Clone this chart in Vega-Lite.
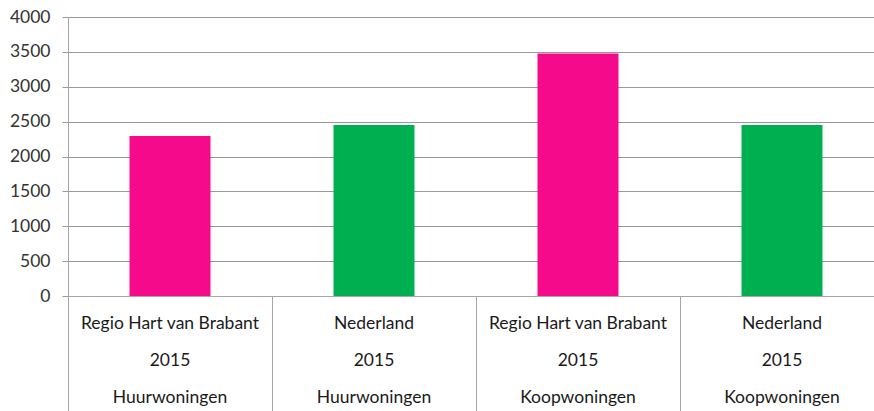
{
  "$schema": "https://vega.github.io/schema/vega-lite/v6.json",
  "autosize": "none",
  "padding": {"left": 68, "top": 17, "right": 0, "bottom": 115},
  "width": 816,
  "height": 279,
  "background": "white",
  "config": {"view": {"stroke": null}, "font": "Lato"},
  "data": {"values": [
    {"category": "Regio Hart van Brabant|2015|Huurwoningen", "region": "Regio Hart van Brabant", "value": 2295},
    {"category": "Nederland|2015|Huurwoningen", "region": "Nederland", "value": 2450},
    {"category": "Regio Hart van Brabant|2015|Koopwoningen", "region": "Regio Hart van Brabant", "value": 3475},
    {"category": "Nederland|2015|Koopwoningen", "region": "Nederland", "value": 2450}
  ]},
  "mark": {"type": "bar", "width": {"band": 0.397}},
  "encoding": {
    "x": {
      "field": "category", "type": "nominal", "sort": null,
      "scale": {"paddingInner": 0, "paddingOuter": 0},
      "axis": {
        "title": null,
        "labelAngle": 0,
        "labelExpr": "split(datum.value, '|')",
        "labelFontSize": 17.5,
        "labelLimit": 400,
        "labelLineHeight": 37,
        "labelColor": "#1a1a1a",
        "labelPadding": -97,
        "labelBaseline": "top",
        "labelOverlap": false,
        "labelBound": false,
        "bandPosition": 0,
        "tickSize": 115,
        "tickColor": "#a6a6a6",
        "domainColor": "#a6a6a6",
        "labelFont": "Lato"
      }
    },
    "y": {
      "field": "value", "type": "quantitative",
      "scale": {"domain": [0, 4000]},
      "axis": {
        "title": null,
        "values": [0, 500, 1000, 1500, 2000, 2500, 3000, 3500, 4000],
        "format": "d",
        "labelFontSize": 17.5,
        "labelColor": "#333333",
        "labelPadding": 12,
        "tickSize": 6,
        "tickColor": "#999999",
        "domainColor": "#a6a6a6",
        "gridColor": "#999999",
        "gridOpacity": 1,
        "labelFont": "Lato"
      }
    },
    "color": {
      "field": "region", "type": "nominal",
      "scale": {"domain": ["Regio Hart van Brabant", "Nederland"], "range": ["#F50A8C", "#00B050"]},
      "legend": null
    }
  }
}
